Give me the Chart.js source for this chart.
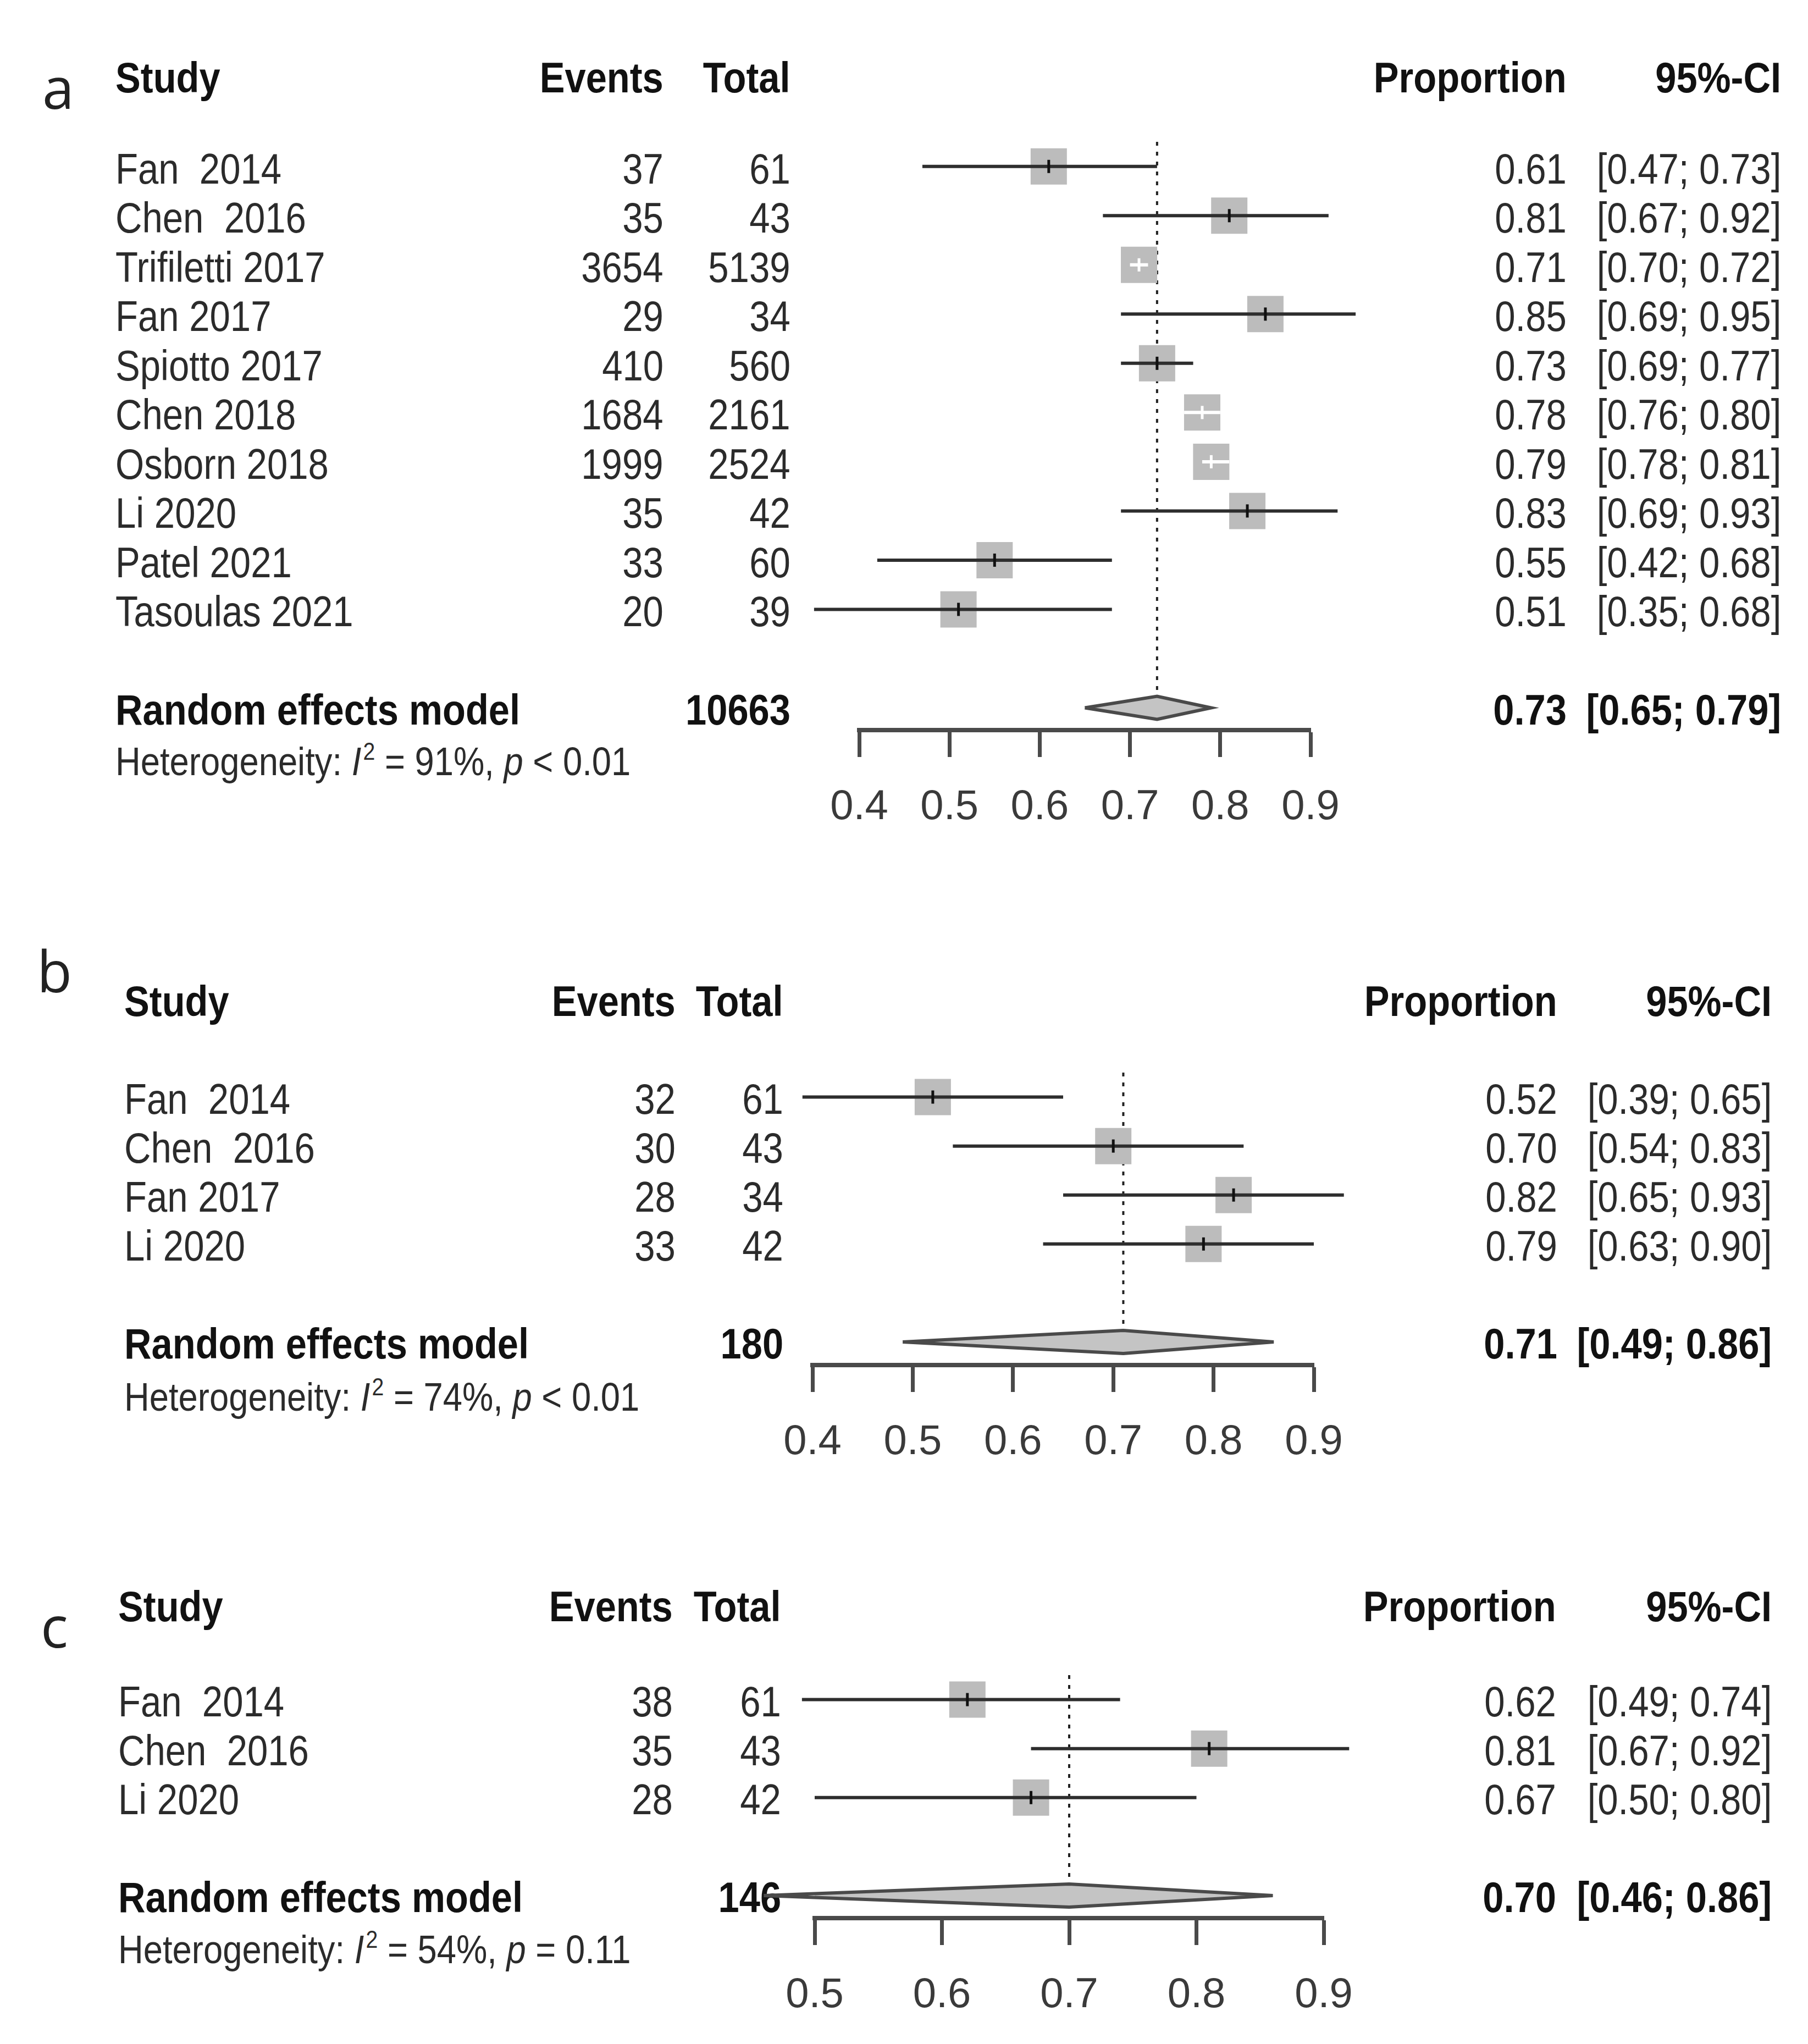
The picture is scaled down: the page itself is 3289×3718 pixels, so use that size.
<!DOCTYPE html>
<html>
<head>
<meta charset="utf-8">
<title>Forest plots of proportions</title>
<script src="https://cdn.jsdelivr.net/npm/chart.js@4.4.1/dist/chart.umd.min.js"></script>
<style>
  html, body { margin: 0; padding: 0; background: #fff; }
  #page { position: relative; width: 3289px; height: 3718px; overflow: hidden; background: #fff; }
  .t { position: absolute; white-space: pre; line-height: 1; font-family: 'Liberation Sans', Arial, sans-serif; color: #2b2b2b; z-index: 1; }
  .t.b { font-weight: bold; color: #111; }
  .t .sup { position: relative; top: -0.62em; font-size: 0.62em; margin-left: 0.08em; }
  .letter { position: absolute; width: 200px; text-align: center; line-height: 1; font-family: 'Open Sans', 'Noto Sans', sans-serif; font-size: 104px; color: #222; z-index: 1; }
  canvas { position: absolute; left: 0; z-index: 2; }
</style>
</head>
<body>
<div id="page"></div>
<script>
// ---- panel a
const studiesA = ['Fan  2014', 'Chen  2016', 'Trifiletti 2017', 'Fan 2017', 'Spiotto 2017', 'Chen 2018', 'Osborn 2018', 'Li 2020', 'Patel 2021', 'Tasoulas 2021'];
const eventsA = [37, 35, 3654, 29, 410, 1684, 1999, 35, 33, 20];
const totalsA = [61, 43, 5139, 34, 560, 2161, 2524, 42, 60, 39];
const propA = [0.61, 0.81, 0.71, 0.85, 0.73, 0.78, 0.79, 0.83, 0.55, 0.51];
const lowerA = [0.47, 0.67, 0.70, 0.69, 0.69, 0.76, 0.78, 0.69, 0.42, 0.35];
const upperA = [0.73, 0.92, 0.72, 0.95, 0.77, 0.80, 0.81, 0.93, 0.68, 0.68];
const modelA = [0.73, 0.65, 0.79]; // estimate, lower, upper
const sumA = 10663;
const hetA = ['91%', '< 0.01'];
const ticksA = [0.4, 0.5, 0.6, 0.7, 0.8, 0.9];

// ---- panel b
const studiesB = ['Fan  2014', 'Chen  2016', 'Fan 2017', 'Li 2020'];
const eventsB = [32, 30, 28, 33];
const totalsB = [61, 43, 34, 42];
const propB = [0.52, 0.70, 0.82, 0.79];
const lowerB = [0.39, 0.54, 0.65, 0.63];
const upperB = [0.65, 0.83, 0.93, 0.90];
const modelB = [0.71, 0.49, 0.86];
const sumB = 180;
const hetB = ['74%', '< 0.01'];
const ticksB = [0.4, 0.5, 0.6, 0.7, 0.8, 0.9];

// ---- panel c
const studiesC = ['Fan  2014', 'Chen  2016', 'Li 2020'];
const eventsC = [38, 35, 28];
const totalsC = [61, 43, 42];
const propC = [0.62, 0.81, 0.67];
const lowerC = [0.49, 0.67, 0.50];
const upperC = [0.74, 0.92, 0.80];
const modelC = [0.70, 0.46, 0.86];
const sumC = 146;
const hetC = ['54%', '= 0.11'];
const ticksC = [0.5, 0.6, 0.7, 0.8, 0.9];

// page geometry (pixels)
const PAGE_W = 3289;
const AXIS_H = 200;
const BOX_SIDE = 66;
const DIAMOND_HALF = 21;
const FONT = "'Liberation Sans', Arial, sans-serif";

const LAYOUT = {
  a: { letterX: 106, letterBase: 198, headerY: 140, row0: 303, rowH: 89.5, axisY: 1328, x0: 1563, x1: 2384, hetY: 1384,
       studyX: 210, eventsX: 1207, totalX: 1438, propX: 2850, ciX: 3240 },
  b: { letterX: 99, letterBase: 1805, headerY: 1820, row0: 1995, rowH: 89, axisY: 2482, x0: 1478, x1: 2390, hetY: 2540,
       studyX: 226, eventsX: 1229, totalX: 1425, propX: 2833, ciX: 3223 },
  c: { letterX: 99, letterBase: 2997, headerY: 2921, row0: 3091, rowH: 89, axisY: 3488, x0: 1482, x1: 2408, hetY: 3545,
       studyX: 215, eventsX: 1224, totalX: 1421, propX: 2831, ciX: 3223 }
};

const page = document.getElementById('page');

function addText(str, x, y, opts = {}) {
  const { align = 'left', bold = false, size = 78, squeeze = bold ? 0.88 : 0.86, html = false } = opts;
  const el = document.createElement('div');
  el.className = 't' + (bold ? ' b' : '');
  if (html) el.innerHTML = str; else el.textContent = str;
  el.style.fontSize = size + 'px';
  // put the cap-height centre on y
  el.style.top = (y - size * 0.4885) + 'px';
  if (align === 'right') {
    el.style.right = (PAGE_W - x) + 'px';
    el.style.transformOrigin = 'right center';
  } else {
    el.style.left = x + 'px';
    el.style.transformOrigin = 'left center';
  }
  el.style.transform = 'scaleX(' + squeeze + ')';
  page.appendChild(el);
}

function addLetter(ch, x, baseline) {
  const el = document.createElement('div');
  el.className = 'letter';
  el.textContent = ch;
  el.style.left = (x - 100) + 'px';
  el.style.top = (baseline - 104 * 0.888) + 'px';
  page.appendChild(el);
}

const fmt2 = v => v.toFixed(2);
const ciText = (lo, hi) => '[' + fmt2(lo) + '; ' + fmt2(hi) + ']';

function drawTable(letter, d, L) {
  const n = d.studies.length;
  addLetter(letter, L.letterX, L.letterBase);

  addText('Study', L.studyX, L.headerY, { bold: true });
  addText('Events', L.eventsX, L.headerY, { bold: true, align: 'right' });
  addText('Total', L.totalX, L.headerY, { bold: true, align: 'right' });
  addText('Proportion', L.propX, L.headerY, { bold: true, align: 'right' });
  addText('95%-CI', L.ciX, L.headerY, { bold: true, align: 'right' });

  d.studies.forEach((name, i) => {
    const y = L.row0 + i * L.rowH + 3;
    addText(name, L.studyX, y);
    addText(String(d.events[i]), L.eventsX, y, { align: 'right' });
    addText(String(d.totals[i]), L.totalX, y, { align: 'right' });
    addText(fmt2(d.prop[i]), L.propX, y, { align: 'right' });
    addText(ciText(d.lower[i], d.upper[i]), L.ciX, y, { align: 'right' });
  });

  const my = L.row0 + (n + 1) * L.rowH + 3;
  addText('Random effects model', L.studyX, my, { bold: true });
  addText(String(d.sum), L.totalX, my, { bold: true, align: 'right' });
  addText(fmt2(d.model[0]), L.propX, my, { bold: true, align: 'right' });
  addText(ciText(d.model[1], d.model[2]), L.ciX, my, { bold: true, align: 'right' });

  addText('Heterogeneity: <i>I</i><span class="sup">2</span> = ' + d.het[0] + ', <i>p</i> ' + d.het[1],
    L.studyX, L.hetY, { size: 72, squeeze: 0.88, html: true });
}

function drawChart(d, L) {
  const n = d.studies.length;
  const modelRow = n + 1;
  const topY = L.row0 - 0.5 * L.rowH;
  const padTop = 60;
  const height = Math.round((L.axisY - topY) + padTop + AXIS_H);

  const canvas = document.createElement('canvas');
  canvas.width = PAGE_W;
  canvas.height = height;
  canvas.style.top = (topY - padTop) + 'px';
  page.appendChild(canvas);

  const tMin = d.ticks[0];
  const tMax = d.ticks[d.ticks.length - 1];
  const pxPerUnit = (L.x1 - L.x0) / (tMax - tMin);
  // CI lines that fit inside the box are drawn white, as in R's meta
  const inside = d.prop.map((p, i) => (d.upper[i] - d.lower[i]) * pxPerUnit < BOX_SIDE);
  const dh = DIAMOND_HALF / L.rowH;
  const [mEst, mLo, mHi] = d.model;
  const points = d.prop.map((p, i) => ({ x: p, y: i }));

  const datasets = [];

  // dotted reference line at the pooled estimate
  datasets.push({
    type: 'line', data: [{ x: mEst, y: -0.5 }, { x: mEst, y: modelRow - dh }],
    borderColor: '#222', borderWidth: 4, borderDash: [7, 11], pointRadius: 0, order: 5, clip: false
  });

  // study boxes
  datasets.push({
    type: 'scatter', data: points, pointStyle: 'rect', pointRadius: BOX_SIDE / (2 * Math.SQRT1_2),
    pointHoverRadius: BOX_SIDE / (2 * Math.SQRT1_2), backgroundColor: '#bcbcbc', borderWidth: 0, order: 4, clip: false
  });

  // confidence intervals
  d.prop.forEach((p, i) => {
    datasets.push({
      type: 'line', data: [{ x: d.lower[i], y: i }, { x: d.upper[i], y: i }],
      borderColor: inside[i] ? '#ffffff' : '#2e2e2e', borderWidth: 6, pointRadius: 0, order: 3, clip: false
    });
  });

  // small vertical mark at each estimate
  datasets.push({
    type: 'scatter', data: points, pointStyle: 'line', rotation: 90, pointRadius: 12, pointHoverRadius: 12,
    borderWidth: 5, borderColor: inside.map(v => v ? '#ffffff' : '#111111'), order: 2, clip: false
  });

  // pooled diamond
  datasets.push({
    type: 'line',
    data: [
      { x: mLo, y: modelRow }, { x: mEst, y: modelRow - dh }, { x: mHi, y: modelRow },
      { x: mEst, y: modelRow + dh }, { x: mLo, y: modelRow }
    ],
    fill: 'shape', backgroundColor: '#c4c4c4', borderColor: '#4a4a4a', borderWidth: 6,
    borderJoinStyle: 'miter', pointRadius: 0, tension: 0, order: 1, clip: false
  });

  new Chart(canvas, {
    type: 'scatter',
    data: { datasets },
    options: {
      responsive: false,
      animation: false,
      devicePixelRatio: 1,
      events: [],
      layout: { padding: { left: L.x0, right: PAGE_W - L.x1, top: padTop, bottom: 0 } },
      plugins: { legend: { display: false }, tooltip: { enabled: false } },
      scales: {
        x: {
          type: 'linear', position: 'bottom', min: tMin, max: tMax,
          afterBuildTicks: axis => { axis.ticks = d.ticks.map(v => ({ value: v })); },
          afterFit: axis => { axis.height = AXIS_H; },
          ticks: {
            callback: v => Number(v).toFixed(1), autoSkip: false, maxRotation: 0,
            font: { family: FONT, size: 76 }, color: '#3a3a3a', padding: 46
          },
          grid: { drawOnChartArea: false, drawTicks: true, tickLength: 49, tickWidth: 7, tickColor: '#4a4a4a' },
          border: { display: true, color: '#4a4a4a', width: 8 }
        },
        y: {
          type: 'linear', display: false, reverse: true,
          min: -0.5, max: (L.axisY - L.row0) / L.rowH
        }
      }
    }
  });
}

const panels = [
  ['a', { studies: studiesA, events: eventsA, totals: totalsA, prop: propA, lower: lowerA, upper: upperA, model: modelA, sum: sumA, het: hetA, ticks: ticksA }],
  ['b', { studies: studiesB, events: eventsB, totals: totalsB, prop: propB, lower: lowerB, upper: upperB, model: modelB, sum: sumB, het: hetB, ticks: ticksB }],
  ['c', { studies: studiesC, events: eventsC, totals: totalsC, prop: propC, lower: lowerC, upper: upperC, model: modelC, sum: sumC, het: hetC, ticks: ticksC }]
];

panels.forEach(([key, d]) => {
  drawTable(key, d, LAYOUT[key]);
  drawChart(d, LAYOUT[key]);
});
</script>
</body>
</html>
